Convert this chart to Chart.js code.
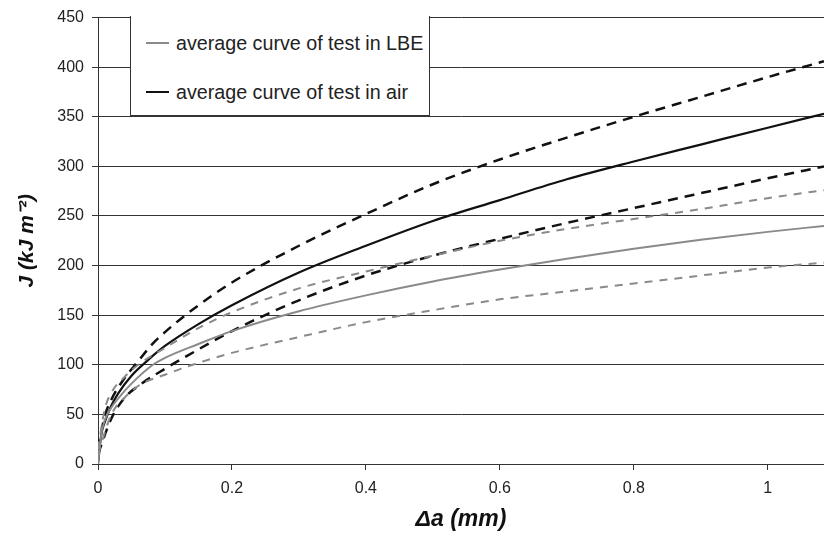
<!DOCTYPE html>
<html>
<head>
<meta charset="utf-8">
<script src="https://cdn.jsdelivr.net/npm/chart.js@4/dist/chart.umd.min.js"></script>
<style>
  html, body { margin: 0; padding: 0; background: #fff; }
  #wrap { position: relative; width: 824px; height: 534px; }
  #legend { position: absolute; left: 130px; top: 16px; width: 298px; height: 99px;
    background: #fff; border: 1px solid #333; border-top: none;
    font-family: "Liberation Sans", Arial, sans-serif; font-size: 19.7px; color: #222; }
  .row { position: absolute; left: 15px; height: 24px; display: flex; align-items: center; white-space: nowrap; }
  .swatch { width: 23px; height: 0; margin-right: 7px; }
</style>
</head>
<body>
<div id="wrap">
  <canvas id="c" width="824" height="534"></canvas>
  <div id="legend"></div>
</div>
<script>
// ---- data ----
const xAxisTitle = "Δa (mm)";
const yAxisTitle = "J (kJ m⁻²)";
const legendLabels = ["average curve of test in LBE", "average curve of test in air"];

const airAvgX = [0, 0.005, 0.01, 0.02, 0.03, 0.05, 0.075, 0.1, 0.15, 0.2, 0.3, 0.4, 0.5, 0.6, 0.7, 0.8, 0.9, 1.0, 1.084];
const airAvgJ = [0, 30, 42, 59, 71, 89, 105, 119, 141, 160, 193, 220, 245, 266, 287, 305, 322, 339, 353];

const airUpX = [0, 0.01, 0.02, 0.037, 0.058, 0.08, 0.1, 0.15, 0.2, 0.3, 0.4, 0.5, 0.6, 0.7, 0.8, 0.9, 1.0, 1.084];
const airUpJ = [15, 48, 65, 84, 102, 120, 133, 160, 183, 220, 252, 282, 307, 329, 350, 370, 390, 406];

const airLowX = [0, 0.02, 0.04, 0.063, 0.1, 0.133, 0.2, 0.3, 0.4, 0.5, 0.6, 0.7, 0.8, 0.9, 1.0, 1.084];
const airLowJ = [10, 46, 67, 80, 96, 109, 134, 165, 190, 210, 227, 243, 258, 273, 288, 300];

const lbeAvgX = [0, 0.005, 0.01, 0.02, 0.03, 0.05, 0.082, 0.1, 0.15, 0.2, 0.3, 0.4, 0.5, 0.6, 0.7, 0.8, 0.9, 1.0, 1.084];
const lbeAvgJ = [0, 30, 44, 57, 66, 81, 100, 107, 121, 134, 154, 170, 184, 196, 207, 217, 226, 234, 240];

const lbeUpX = [0, 0.01, 0.02, 0.04, 0.06, 0.1, 0.15, 0.2, 0.3, 0.4, 0.5, 0.6, 0.7, 0.8, 0.9, 1.0, 1.084];
const lbeUpJ = [15, 55, 72, 88, 100, 117, 137, 153, 177, 194, 210, 225, 237, 247, 257, 268, 276];

const lbeLowX = [0, 0.02, 0.04, 0.063, 0.1, 0.15, 0.2, 0.3, 0.4, 0.5, 0.6, 0.7, 0.8, 0.9, 1.0, 1.084];
const lbeLowJ = [10, 50, 67, 80, 90, 102, 112, 128, 143, 155, 166, 174, 182, 190, 198, 203];

const xMin = 0, xMax = 1.084, xStep = 0.2;
const yMin = 0, yMax = 450, yStep = 50;

// ---- build ----
const pts = (xs, ys) => xs.map((x, i) => ({x: x, y: ys[i]}));
const GRAY = '#8a8a8a', BLACK = '#111';
const FONT = '"Liberation Sans", Arial, sans-serif';

function ds(label, xs, ys, color, width, dash) {
  return { label, data: pts(xs, ys), borderColor: color, borderWidth: width,
    borderDash: dash || [], pointRadius: 0, fill: false,
    cubicInterpolationMode: 'monotone', borderCapStyle: 'butt' };
}

const datasets = [
  ds('LBE upper', lbeUpX, lbeUpJ, GRAY, 2, [8, 7]),
  ds('LBE lower', lbeLowX, lbeLowJ, GRAY, 2, [8, 7]),
  ds(legendLabels[0], lbeAvgX, lbeAvgJ, GRAY, 2),
  ds('air upper', airUpX, airUpJ, BLACK, 2.5, [10, 7]),
  ds('air lower', airLowX, airLowJ, BLACK, 2.5, [10, 7]),
  ds(legendLabels[1], airAvgX, airAvgJ, BLACK, 2.2),
];

new Chart(document.getElementById('c'), {
  type: 'line',
  data: { datasets },
  options: {
    responsive: false,
    animation: false,
    layout: { padding: { top: 16, right: 0, left: 0, bottom: 0 } },
    plugins: { legend: { display: false }, tooltip: { enabled: false } },
    scales: {
      x: {
        type: 'linear', min: xMin, max: xMax,
        afterFit: s => { s.height = 70; },
        ticks: { stepSize: xStep, includeBounds: false, padding: 9, color: '#222',
          font: { family: FONT, size: 16 }, maxRotation: 0,
          callback: v => String(+v.toFixed(1)) },
        grid: { drawOnChartArea: false, drawTicks: true, tickLength: 6, color: '#333', lineWidth: 1 },
        border: { display: true, color: '#333', width: 1 },
        title: { display: true, text: xAxisTitle, color: '#111',
          font: { family: FONT, size: 23, weight: 'bold', style: 'italic', lineHeight: 1 },
          padding: { top: 0, bottom: 3 } }
      },
      y: {
        type: 'linear', min: yMin, max: yMax,
        afterFit: s => { s.width = 98; },
        ticks: { stepSize: yStep, padding: 8, color: '#222', font: { family: FONT, size: 16 } },
        grid: { drawOnChartArea: true, drawTicks: true, tickLength: 6, color: '#333', lineWidth: 1 },
        border: { display: true, color: '#333', width: 1 },
        title: { display: true, text: yAxisTitle, color: '#111',
          font: { family: FONT, size: 21, weight: 'bold', style: 'italic', lineHeight: 1 },
          padding: { top: 17, bottom: 0 } }
      }
    }
  }
});

// legend box (HTML overlay, from legendLabels)
const leg = document.getElementById('legend');
const legColors = [GRAY, BLACK];
const legWidths = [2, 2];
const rowTops = [15, 64];
legendLabels.forEach((t, i) => {
  const r = document.createElement('div');
  r.className = 'row';
  r.style.top = rowTops[i] + 'px';
  const sw = document.createElement('span');
  sw.className = 'swatch';
  sw.style.borderTop = legWidths[i] + 'px solid ' + legColors[i];
  const tx = document.createElement('span');
  tx.textContent = t;
  r.appendChild(sw); r.appendChild(tx);
  leg.appendChild(r);
});
</script>
</body>
</html>
